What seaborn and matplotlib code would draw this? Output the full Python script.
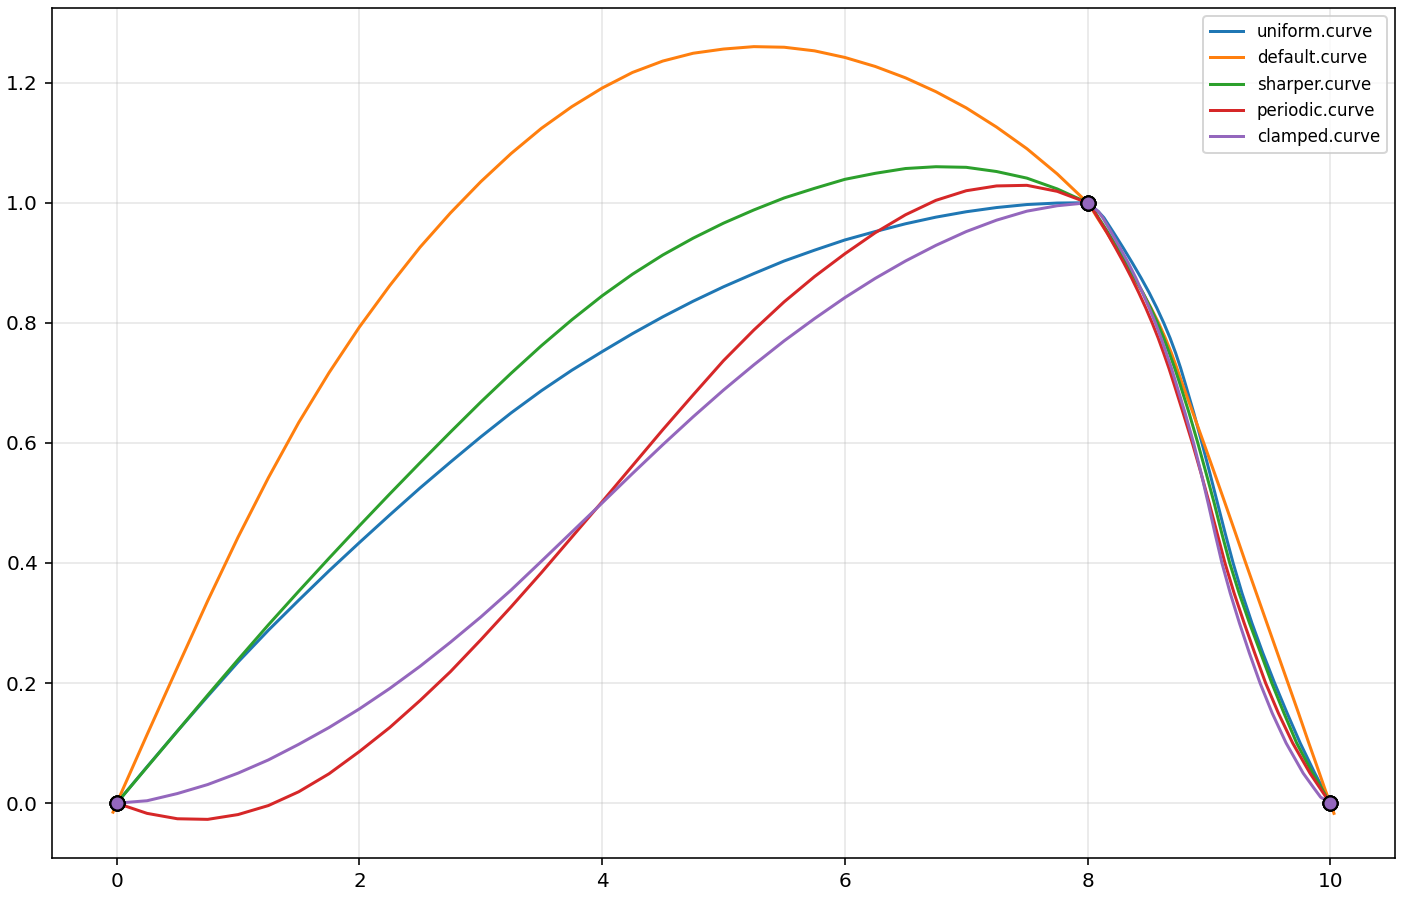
import matplotlib
matplotlib.use("Agg")
import matplotlib.pyplot as plt
import seaborn as sns
import pandas as pd

# --- data ---
CURVE_NAMES = ["uniform.curve", "default.curve", "sharper.curve",
               "periodic.curve", "clamped.curve"]

# control points every curve goes through
CTRL_X = [0, 8, 10]
CTRL_Y = [0, 1, 0]

# rising part: y of each curve at these x
X_LEFT = [0, 0.25, 0.5, 0.75, 1, 1.25, 1.5, 1.75, 2, 2.25, 2.5, 2.75, 3, 3.25,
          3.5, 3.75, 4, 4.25, 4.5, 4.75, 5, 5.25, 5.5, 5.75, 6, 6.25, 6.5, 6.75,
          7, 7.25, 7.5, 7.75, 8]
UNIFORM_LEFT = [0, 0.0605, 0.12, 0.178, 0.235, 0.288, 0.338, 0.387, 0.434, 0.480,
                0.525, 0.568, 0.61, 0.650, 0.687, 0.721, 0.752, 0.782, 0.81, 0.836,
                0.86, 0.882, 0.903, 0.921, 0.938, 0.952, 0.965, 0.976, 0.985, 0.992,
                0.997, 0.9995, 1.0]
DEFAULT_LEFT = [0, 0.114, 0.226, 0.337, 0.443, 0.542, 0.634, 0.717, 0.793, 0.862,
                0.926, 0.983, 1.035, 1.082, 1.124, 1.160, 1.191, 1.217, 1.236, 1.249,
                1.256, 1.260, 1.259, 1.253, 1.242, 1.227, 1.208, 1.185, 1.158, 1.126,
                1.090, 1.048, 1.0]
SHARPER_LEFT = [0, 0.06, 0.12, 0.18, 0.239, 0.297, 0.353, 0.408, 0.462, 0.515,
                0.567, 0.618, 0.668, 0.716, 0.762, 0.805, 0.845, 0.881, 0.913, 0.941,
                0.966, 0.988, 1.008, 1.024, 1.039, 1.049, 1.057, 1.060, 1.059, 1.052,
                1.041, 1.023, 1.0]
PERIODIC_LEFT = [0, -0.017, -0.026, -0.027, -0.019, -0.004, 0.019, 0.049, 0.086, 0.126,
                 0.171, 0.219, 0.272, 0.327, 0.384, 0.443, 0.502, 0.562, 0.622, 0.680,
                 0.737, 0.788, 0.835, 0.877, 0.915, 0.950, 0.980, 1.004, 1.020, 1.028,
                 1.029, 1.019, 1.0]
CLAMPED_LEFT = [0, 0.004, 0.016, 0.031, 0.05, 0.072, 0.098, 0.126, 0.157, 0.191,
                0.228, 0.268, 0.31, 0.355, 0.403, 0.4515, 0.5, 0.549, 0.597, 0.6435,
                0.688, 0.730, 0.770, 0.807, 0.842, 0.874, 0.903, 0.929, 0.952, 0.971,
                0.986, 0.995, 1.0]

# falling part: x where each curve crosses these y levels
Y_DROP = [0.985, 0.975, 0.95, 0.925, 0.9, 0.875, 0.85, 0.825, 0.8, 0.775, 0.75,
          0.725, 0.7, 0.65, 0.6, 0.55, 0.5, 0.45, 0.4, 0.35, 0.3, 0.25, 0.2,
          0.15, 0.1, 0.05, 0.025, 0.01, 0]
UNIFORM_DROP = [8.09, 8.135, 8.215, 8.293, 8.368, 8.44, 8.508, 8.57, 8.627, 8.679,
                8.725, 8.766, 8.803, 8.875, 8.942, 9.007, 9.07, 9.133, 9.199, 9.272,
                9.354, 9.444, 9.541, 9.644, 9.752, 9.872, 9.937, 9.975, 10]
DEFAULT_DROP = [8.05, 8.08, 8.16, 8.235, 8.31, 8.383, 8.455, 8.522, 8.585, 8.64,
                8.69, 8.735, 8.778, 8.868, 8.957, 9.045, 9.132, 9.218, 9.303, 9.39,
                9.477, 9.564, 9.651, 9.738, 9.823, 9.91, 9.953, 9.98, 10]
SHARPER_DROP = [8.06, 8.09, 8.17, 8.245, 8.318, 8.388, 8.456, 8.519, 8.576, 8.627,
                8.673, 8.717, 8.758, 8.836, 8.908, 8.976, 9.043, 9.105, 9.171, 9.248,
                9.334, 9.426, 9.518, 9.618, 9.723, 9.853, 9.928, 9.97, 10]
PERIODIC_DROP = [8.055, 8.085, 8.16, 8.23, 8.298, 8.362, 8.422, 8.479, 8.532, 8.581,
                 8.626, 8.669, 8.709, 8.787, 8.863, 8.934, 9.002, 9.067, 9.132, 9.207,
                 9.29, 9.377, 9.467, 9.572, 9.69, 9.832, 9.915, 9.965, 10]
CLAMPED_DROP = [8.09, 8.125, 8.197, 8.267, 8.335, 8.397, 8.453, 8.507, 8.558, 8.605,
                8.648, 8.69, 8.728, 8.803, 8.873, 8.935, 8.993, 9.049, 9.107, 9.175,
                9.251, 9.333, 9.421, 9.521, 9.636, 9.776, 9.865, 9.92, 10]

# default.curve pokes a little past both end points
DEFAULT_HEAD_X, DEFAULT_HEAD_Y = [-0.03], [-0.015]
DEFAULT_TAIL_X, DEFAULT_TAIL_Y = [10.03], [-0.017]

LEFTS = [UNIFORM_LEFT, DEFAULT_LEFT, SHARPER_LEFT, PERIODIC_LEFT, CLAMPED_LEFT]
DROPS = [UNIFORM_DROP, DEFAULT_DROP, SHARPER_DROP, PERIODIC_DROP, CLAMPED_DROP]

# --- build long table ---
rows = []
for name, left, drop in zip(CURVE_NAMES, LEFTS, DROPS):
    xs = X_LEFT + drop
    ys = left + Y_DROP
    if name == "default.curve":
        xs = DEFAULT_HEAD_X + xs + DEFAULT_TAIL_X
        ys = DEFAULT_HEAD_Y + ys + DEFAULT_TAIL_Y
    for i, (x, y) in enumerate(zip(xs, ys)):
        rows.append({"curve": name, "order": i, "x": x, "y": y})
df = pd.DataFrame(rows)
ctrl = pd.DataFrame({"x": CTRL_X, "y": CTRL_Y})

colors = sns.color_palette("tab10", 5)

fig, ax = plt.subplots(figsize=(1405 / 144, 897 / 144), dpi=144)

for name, c in zip(CURVE_NAMES, colors):
    sub = df[df["curve"] == name].sort_values("order")
    sns.lineplot(data=sub, x="x", y="y", sort=False, estimator=None,
                 color=c, linewidth=1.5, label=name, ax=ax)
    sns.scatterplot(data=ctrl, x="x", y="y", color=c, s=49,
                    edgecolor="black", linewidth=1.0, zorder=3,
                    legend=False, ax=ax)

ax.set_xlabel("")
ax.set_ylabel("")
ax.grid(True, alpha=0.3)
ax.legend(loc="upper right", fontsize="small")

plt.subplots_adjust(left=52 / 1405, right=1395 / 1405,
                    top=1 - 8 / 897, bottom=1 - 858 / 897)
plt.savefig("out.png", dpi=144)
plt.close()
